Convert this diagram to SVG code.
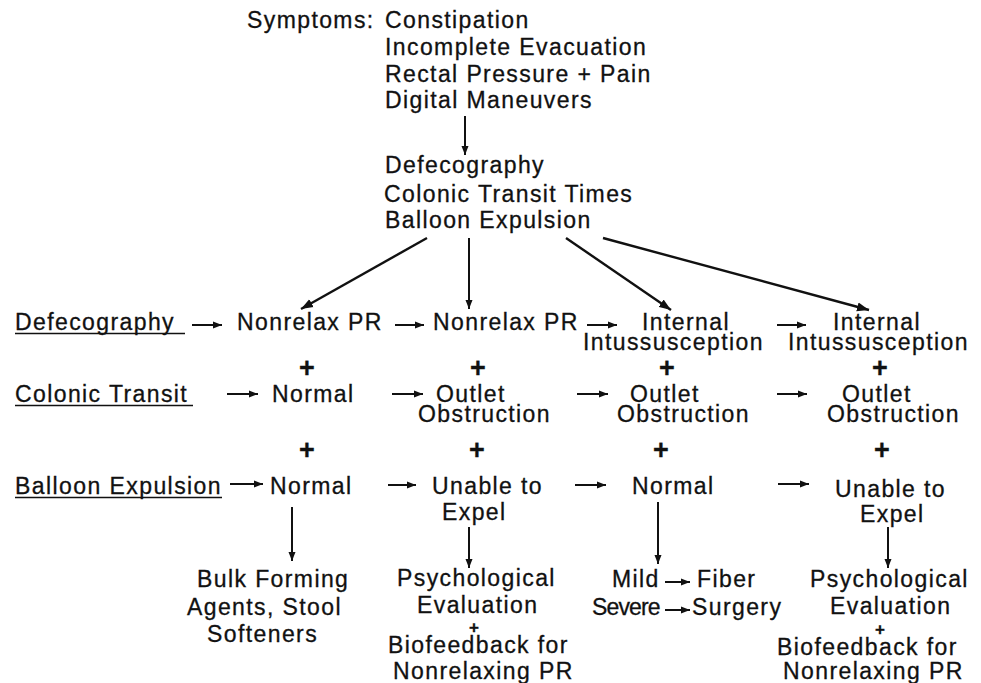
<svg xmlns="http://www.w3.org/2000/svg" width="981" height="683" viewBox="0 0 981 683">
<defs>
<marker id="ah" markerUnits="userSpaceOnUse" markerWidth="10" markerHeight="8" refX="9" refY="4" orient="auto"><path d="M0,0.5 L9,4 L0,7.5 z" fill="#111"/></marker>
<marker id="ahb" markerUnits="userSpaceOnUse" markerWidth="13" markerHeight="10" refX="12" refY="5" orient="auto"><path d="M0,0.5 L12,5 L0,9.5 z" fill="#111"/></marker>
</defs>
<style>
text{font-family:"Liberation Sans",Arial,sans-serif;font-size:23px;letter-spacing:1.4px;fill:#111;stroke:#111;stroke-width:0.3px}
.plus{font-weight:bold;font-size:27px;letter-spacing:0;text-anchor:middle}
.sp{font-size:17px;font-weight:bold;letter-spacing:0;text-anchor:middle}
.c line{stroke:#111;stroke-width:2;marker-end:url(#ah)}
.c line.b{stroke-width:2.4;marker-end:url(#ahb)}
.u{stroke:#111;stroke-width:1.5}
</style>
<rect width="981" height="683" fill="#fff"/>
<g id="symptoms">
<text x="247" y="28">Symptoms:</text>
<text x="385" y="28">Constipation</text>
<text x="385" y="55">Incomplete Evacuation</text>
<text x="385" y="82">Rectal Pressure + Pain</text>
<text x="385" y="108">Digital Maneuvers</text>
</g>
<g id="tests">
<text x="385" y="173">Defecography</text>
<text x="384" y="202">Colonic Transit Times</text>
<text x="385" y="228">Balloon Expulsion</text>
</g>
<g id="label-defecography">
<text x="15" y="330">Defecography</text>
<line class="u" x1="15" y1="333.5" x2="185" y2="333.5"/>
</g>
<g id="label-colonic">
<text x="15" y="402">Colonic Transit</text>
<line class="u" x1="15" y1="405.5" x2="193" y2="405.5"/>
</g>
<g id="label-balloon">
<text x="15" y="494" textLength="207" lengthAdjust="spacing">Balloon Expulsion</text>
<line class="u" x1="15" y1="497.5" x2="222" y2="497.5"/>
</g>
<g id="c1-defeco"><text x="237" y="330">Nonrelax PR</text></g>
<g id="c2-defeco"><text x="433" y="330">Nonrelax PR</text></g>
<g id="c3-defeco"><text x="642" y="330">Internal</text><text x="583" y="350">Intussusception</text></g>
<g id="c4-defeco"><text x="833" y="330">Internal</text><text x="788" y="350">Intussusception</text></g>
<g id="plus-row2">
<text class="plus" x="307" y="377">+</text>
<text class="plus" x="478" y="377">+</text>
<text class="plus" x="667" y="377">+</text>
<text class="plus" x="880" y="377">+</text>
</g>
<g id="c1-transit"><text x="272" y="402">Normal</text></g>
<g id="c2-transit"><text x="436" y="402">Outlet</text><text x="418" y="422">Obstruction</text></g>
<g id="c3-transit"><text x="630" y="402">Outlet</text><text x="617" y="422">Obstruction</text></g>
<g id="c4-transit"><text x="842" y="402">Outlet</text><text x="827" y="422">Obstruction</text></g>
<g id="plus-row3">
<text class="plus" x="307" y="459">+</text>
<text class="plus" x="477" y="459">+</text>
<text class="plus" x="661" y="459">+</text>
<text class="plus" x="882" y="459">+</text>
</g>
<g id="c1-balloon"><text x="270" y="494">Normal</text></g>
<g id="c2-balloon"><text x="432" y="494">Unable to</text><text x="442" y="520">Expel</text></g>
<g id="c3-balloon"><text x="632" y="494">Normal</text></g>
<g id="c4-balloon"><text x="835" y="497">Unable to</text><text x="860" y="522">Expel</text></g>
<g id="c1-treat">
<text x="197" y="587">Bulk Forming</text>
<text x="187" y="615">Agents, Stool</text>
<text x="207" y="642">Softeners</text>
</g>
<g id="c2-treat">
<text x="397" y="586">Psychological</text>
<text x="417" y="613">Evaluation</text>
<text class="sp" x="474" y="633">+</text>
<text x="388" y="653">Biofeedback for</text>
<text x="393" y="679">Nonrelaxing PR</text>
</g>
<g id="c3-treat">
<text x="612" y="587">Mild</text>
<text x="697" y="587">Fiber</text>
<text x="592" y="615" textLength="70" lengthAdjust="spacing">Severe</text>
<text x="692" y="615">Surgery</text>
</g>
<g id="c4-treat">
<text x="810" y="587">Psychological</text>
<text x="830" y="614">Evaluation</text>
<text class="sp" x="880" y="635">+</text>
<text x="777" y="655">Biofeedback for</text>
<text x="783" y="679">Nonrelaxing PR</text>
</g>
<g id="connectors" class="c">
<line x1="465" y1="116" x2="465" y2="155"/>
<line class="b" x1="427" y1="238" x2="301" y2="309"/>
<line x1="469" y1="238" x2="469" y2="309"/>
<line class="b" x1="566" y1="238" x2="671" y2="310"/>
<line class="b" x1="603" y1="238" x2="869" y2="310"/>
<line x1="192" y1="325" x2="222" y2="325"/>
<line x1="395" y1="325" x2="424" y2="325"/>
<line x1="587" y1="325" x2="617" y2="325"/>
<line x1="777" y1="325" x2="806" y2="325"/>
<line x1="227" y1="394" x2="258" y2="394"/>
<line x1="392" y1="394" x2="423" y2="394"/>
<line x1="577" y1="394" x2="608" y2="394"/>
<line x1="777" y1="394" x2="807" y2="394"/>
<line x1="230" y1="484" x2="263" y2="484"/>
<line x1="388" y1="485" x2="416" y2="485"/>
<line x1="575" y1="485" x2="606" y2="485"/>
<line x1="778" y1="484" x2="809" y2="484"/>
<line x1="292" y1="507" x2="292" y2="561"/>
<line x1="469" y1="527" x2="469" y2="568"/>
<line x1="658" y1="502" x2="658" y2="564"/>
<line x1="888" y1="527" x2="888" y2="568"/>
<line x1="665" y1="582" x2="690" y2="582"/>
<line x1="665" y1="610" x2="690" y2="610"/>
</g>
</svg>
